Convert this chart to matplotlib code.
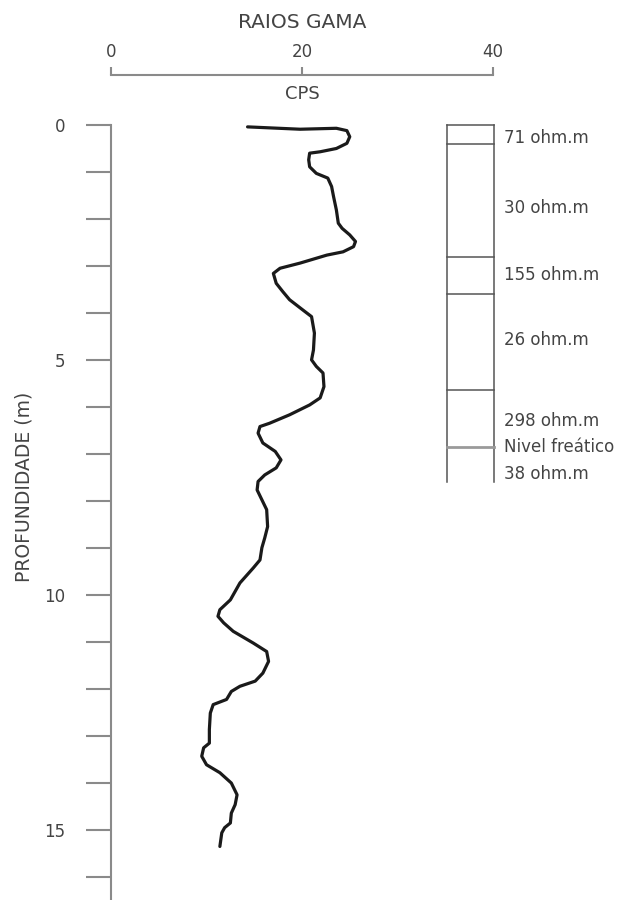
import numpy as np
import matplotlib
matplotlib.use("Agg")
from matplotlib import pyplot as plt

plt.rcParams['font.family'] = ['DejaVu Sans']

# gamma log (depth in m, counts per second)
depth = [0.04, 0.09, 0.07, 0.12, 0.25, 0.39, 0.50, 0.57, 0.60, 0.74, 0.89, 1.03,
         1.13, 1.31, 1.52, 1.81, 2.09, 2.20, 2.34, 2.48, 2.59, 2.70, 2.77, 2.94,
         3.05, 3.16, 3.37, 3.55, 3.72, 3.94, 4.08, 4.43, 4.79, 5.0, 5.14, 5.28,
         5.57, 5.81, 5.96, 6.17, 6.35, 6.42, 6.56, 6.77, 6.95, 7.13, 7.30, 7.45,
         7.59, 7.77, 7.98, 8.19, 8.55, 8.79, 9.0, 9.26, 9.43, 9.75, 10.11, 10.32,
         10.46, 10.60, 10.78, 11.03, 11.21, 11.42, 11.67, 11.84, 11.95, 12.06,
         12.23, 12.34, 12.52, 12.87, 13.16, 13.26, 13.44, 13.62, 13.79, 14.01,
         14.26, 14.47, 14.65, 14.86, 14.96, 15.07, 15.36]
cps = [14.3, 19.8, 23.6, 24.7, 25.0, 24.7, 23.6, 21.9, 20.8, 20.7, 20.8, 21.5,
       22.7, 23.1, 23.3, 23.6, 23.8, 24.2, 25.0, 25.6, 25.4, 24.3, 22.6, 19.8,
       17.7, 17.0, 17.3, 18.0, 18.7, 20.1, 21.0, 21.3, 21.2, 21.0, 21.5, 22.2,
       22.3, 21.9, 20.8, 18.7, 16.6, 15.6, 15.4, 15.9, 17.2, 17.8, 17.3, 16.1,
       15.4, 15.3, 15.8, 16.3, 16.4, 16.1, 15.8, 15.6, 14.9, 13.5, 12.5, 11.4,
       11.2, 11.8, 12.8, 14.9, 16.3, 16.5, 15.9, 15.1, 13.5, 12.6,
       12.1, 10.7, 10.4, 10.3, 10.3, 9.7, 9.5, 10.0, 11.4, 12.6,
       13.2, 13.0, 12.6, 12.5, 11.9, 11.6, 11.4]

# resistivity layers (boundaries in m)
layer_tops = [0.0, 0.4, 2.8, 3.6, 5.65]
water_table = 6.85
column_bottom = 7.6
layer_labels = ['71 ohm.m', '30 ohm.m', '155 ohm.m', '26 ohm.m', '298 ohm.m',
                'Nivel freático', '38 ohm.m']
label_depths = [0.28, 1.77, 3.19, 4.57, 6.3, 6.85, 7.43]

axis_col = '#8a8a8a'
text_col = '#444444'

W, H = 623, 900
fig = plt.figure(figsize=(W / 100, H / 100), dpi=100)

x0, x1 = 111, 493
ax = fig.add_axes([x0 / W, 0, (x1 - x0) / W, (H - 125) / H])
ax.set_xlim(0, 40)
ax.set_ylim(16.5, 0)
for s in ['top', 'right', 'bottom']:
    ax.spines[s].set_visible(False)
ax.spines['left'].set_color(axis_col)
ax.spines['left'].set_linewidth(1.5)
ax.set_xticks([])
ax.set_yticks([0, 5, 10, 15])
ax.set_yticks(np.arange(0, 17), minor=True)
ax.tick_params(axis='y', which='both', length=18, width=1.5, color=axis_col,
               labelsize=12, labelcolor=text_col, pad=15)

fig.text(24 / W, 1 - 487 / H, 'PROFUNDIDADE (m)', rotation=90, ha='center',
         va='center', fontsize=13.5, color=text_col)

ax.plot(cps, depth, color='#1a1a1a', lw=2.3, solid_joinstyle='round',
        solid_capstyle='round')

# resistivity column
cx0, cx1 = 35.2, 40.1
ax.plot([cx0, cx0], [0, column_bottom], color='#555555', lw=1.1, clip_on=False)
ax.plot([cx1, cx1], [0, column_bottom], color='#555555', lw=1.1, clip_on=False)
for d in layer_tops:
    ax.plot([cx0, cx1], [d, d], color='#555555', lw=1.1, clip_on=False)
ax.plot([cx0, cx1], [water_table, water_table], color='#9a9a9a', lw=2.0,
        clip_on=False)
for lab, d in zip(layer_labels, label_depths):
    ax.text(41.2, d, lab, fontsize=12, color=text_col, va='center', ha='left',
            clip_on=False)

# top scale
ax2 = fig.add_axes([x0 / W, 1 - 75 / H, (x1 - x0) / W, 0.0001])
ax2.set_xlim(0, 40)
for s in ['left', 'right', 'bottom']:
    ax2.spines[s].set_visible(False)
ax2.spines['top'].set_color(axis_col)
ax2.spines['top'].set_linewidth(1.5)
ax2.set_yticks([])
ax2.xaxis.tick_top()
ax2.set_xticks([0, 20, 40])
ax2.tick_params(axis='x', length=6, width=1.5, color=axis_col, labelsize=12,
                labelcolor=text_col, pad=4)

fig.text(302 / W, 1 - 22 / H, 'RAIOS GAMA', ha='center', va='center',
         fontsize=14.5, color=text_col)
fig.text(302 / W, 1 - 94 / H, 'CPS', ha='center', va='center',
         fontsize=13, color=text_col)

fig.savefig('out.png', dpi=100)
